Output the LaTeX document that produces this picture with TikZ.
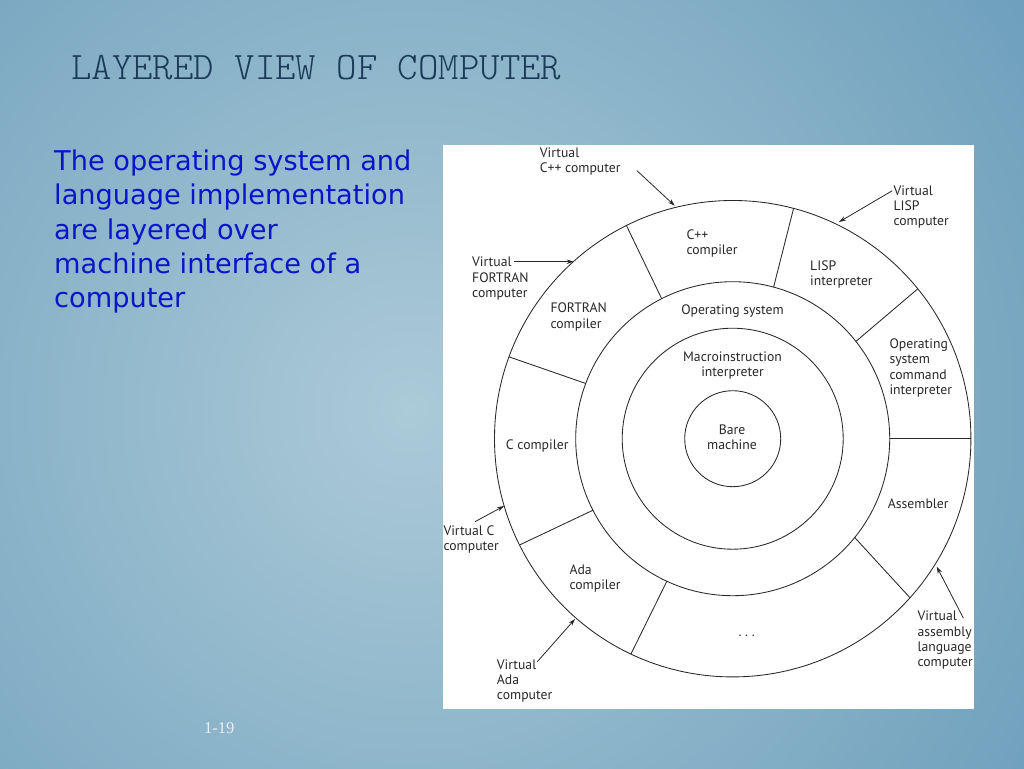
\documentclass[tikz,border=0pt]{standalone}
\usepackage{fontspec}
\usetikzlibrary{arrows.meta,calc}
\newfontfamily\labfont{PT Sans}
\newfontfamily\bdyfont{DejaVu Sans}
\newfontfamily\pnfont{Liberation Serif}
\newfontfamily\ttlfont{Latin Modern Mono Light}
\definecolor{bgin}{RGB}{172,202,216}
\definecolor{bgout}{RGB}{84,142,176}
\definecolor{ttlcol}{RGB}{28,58,88}
\definecolor{bdycol}{RGB}{10,20,200}
\definecolor{inkcol}{RGB}{40,40,40}
\definecolor{pncol}{RGB}{232,240,244}
\tikzset{
  lab/.style={inner sep=0pt, text=inkcol, font=\labfont\fontsize{13.7}{15.3}\selectfont, align=left, anchor=base west},
  labc/.style={lab, align=center, anchor=base},
  ring/.style={draw=inkcol, line width=0.85pt},
  sep/.style={draw=inkcol, line width=0.85pt},
  pointer/.style={draw=inkcol, line width=0.8pt, -{Stealth[length=7pt,width=4.5pt]}},
}
\begin{document}
\begin{tikzpicture}[x=1pt,y=-1pt]
\useasboundingbox (0,0) rectangle (1024,768);
% background
\begin{scope}
\clip (0,0) rectangle (1024,768);
\shade[inner color=bgin, outer color=bgout] (410,410) circle (1050);
\end{scope}
% title and text (multi-line nodes are anchored at the baseline of their last line)
\node[inner sep=0pt, anchor=base west, text=ttlcol, font=\ttlfont\fontsize{38.9}{44}\selectfont] (title) at (71,79.5) {LAYERED VIEW OF COMPUTER};
\node[inner sep=0pt, anchor=base west, align=left, text=bdycol, font=\bdyfont\fontsize{27.2}{34.2}\selectfont] (body) at (54,307.5)
  {The operating system and\\language implementation\\are layered over\\machine interface of a\\computer};
\node[inner sep=0pt, anchor=base west, text=pncol, font=\pnfont\fontsize{16.5}{20}\selectfont] (pagenum) at (204,733.3) {1-19};
% panel
\fill[white] (443,145) rectangle (974,709);
% circles
\coordinate (O) at (732.7,438.7);
\draw[ring] (O) circle (238.2);
\draw[ring] (O) circle (157);
\draw[ring] (O) circle (110.5);
\draw[ring] (O) circle (48);
% separators (inner angle / outer angle, negated because y points down)
\foreach \ai/\ao [count=\k] in {116.9/116.5, 74.9/75.2, 38.3/39, 0/0, -39/-41.9, -114.8/-115.3, 207.1/206.5, 159.4/159.9}{
  \coordinate (si\k) at ($(O)+({-\ai}:157)$);
  \coordinate (so\k) at ($(O)+({-\ao}:238.2)$);
  \draw[sep] (si\k) -- (so\k);
}
% inner labels
\node[lab] (cpp) at (686.3,254.6) {C++\\compiler};
\node[lab] (lisp) at (810,285.3) {LISP\\interpreter};
\node[lab] (fort) at (550.3,328) {FORTRAN\\compiler};
\node[labc] (os) at (732.5,314.5) {Operating system};
\node[lab] (oscmd) at (889.3,394.3) {Operating\\system\\command\\interpreter};
\node[labc] (macro) at (732.5,376.8) {Macroinstruction\\interpreter};
\node[labc] (bare) at (732,449.8) {Bare\\machine};
\node[lab] (ccomp) at (505.7,449) {C compiler};
\node[lab] (asm) at (887.7,508.3) {Assembler};
\node[lab] (ada) at (569.3,589.3) {Ada\\compiler};
\node[labc] (dots) at (746.7,636) {.\ .\ .};
% outer labels
\node[lab] (cppV) at (539.7,172.8) {Virtual\\C++ computer};
\node[lab] (lispV) at (893.3,225.6) {Virtual\\LISP\\computer};
\node[lab] (fortV) at (472,297.3) {Virtual\\FORTRAN\\computer};
\node[lab] (cV) at (443.3,550.3) {Virtual C\\computer};
\node[lab] (adaV) at (496.7,699.6) {Virtual\\Ada\\computer};
\node[lab] (asmV) at (917.3,666.6) {Virtual\\assembly\\language\\computer};
% pointer ends
\coordinate (cppT) at (637,170.7);   \coordinate (cppH) at (674.7,205.7);
\coordinate (lispT) at (892.3,190.7); \coordinate (lispH) at (839,222);
\coordinate (fortT) at (514,261.7);   \coordinate (fortH) at (573.7,261.7);
\coordinate (cT) at (475,521.7);      \coordinate (cH) at (504,506);
\coordinate (adaT) at (537.3,661.7);  \coordinate (adaH) at (575,619);
\coordinate (asmT) at (963.3,618);    \coordinate (asmH) at (936.7,566.7);
\draw[pointer] (cppT) -- (cppH);
\draw[pointer] (lispT) -- (lispH);
\draw[pointer] (fortT) -- (fortH);
\draw[pointer] (cT) -- (cH);
\draw[pointer] (adaT) -- (adaH);
\draw[pointer] (asmT) -- (asmH);
\end{tikzpicture}
\end{document}
